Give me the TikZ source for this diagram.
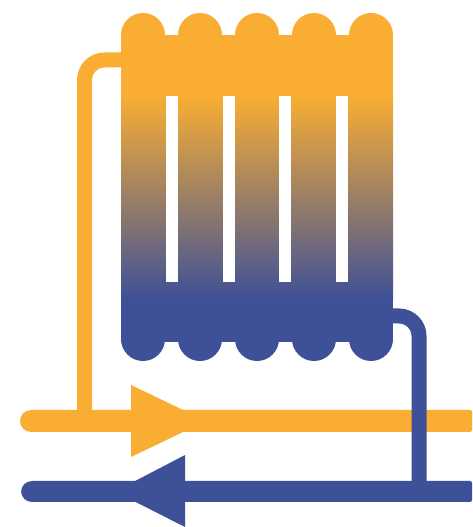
\documentclass[tikz,border=0pt]{standalone}
\usepackage{xcolor}
\definecolor{hotcol}{HTML}{F9AE33}
\definecolor{coldcol}{HTML}{3E5097}
\begin{document}
\begin{tikzpicture}[x=1pt, y=1pt,
    pipe/.style={line width=15pt, rounded corners=20pt},
    main/.style={rounded corners=11pt}]
    \useasboundingbox (0,0) rectangle (472,527);

    % feed and return branches
    \draw[pipe, hotcol] (125,467) -- (84.5,467) -- (84.5,106);
    % main lines
    \fill[main, hotcol] (100,95) -- (20,95) -- (20,117) -- (100,117) [rounded corners=2pt] -- (472,117) -- (472,95) -- cycle;
    \fill[hotcol] (131,142) -- (206,106) -- (131,70) -- cycle;
    \draw[pipe, coldcol] (389,211) -- (419,211) -- (419,36);
    \fill[main, coldcol] (100,25) -- (21,25) -- (21,46) -- (100,46) [rounded corners=2pt] -- (472,46) -- (472,25) -- cycle;
    \fill[coldcol] (185,72) -- (115,35.5) -- (185,0) -- cycle;

    % radiator body
    \foreach \x in {143,200,257,314,371} {
        \fill[hotcol] (\x,492) circle (22);
        \fill[coldcol] (\x,188) circle (22);
    }
    \fill[hotcol] (121,430) rectangle (393,492);
    \shade[top color=hotcol, bottom color=coldcol] (121,227) rectangle (393,432);
    \fill[coldcol] (121,185) rectangle (393,228);
    \foreach \x in {172,229,285,341.5}
        \fill[white] (\x-6,245) rectangle (\x+6,431);
\end{tikzpicture}
\end{document}
